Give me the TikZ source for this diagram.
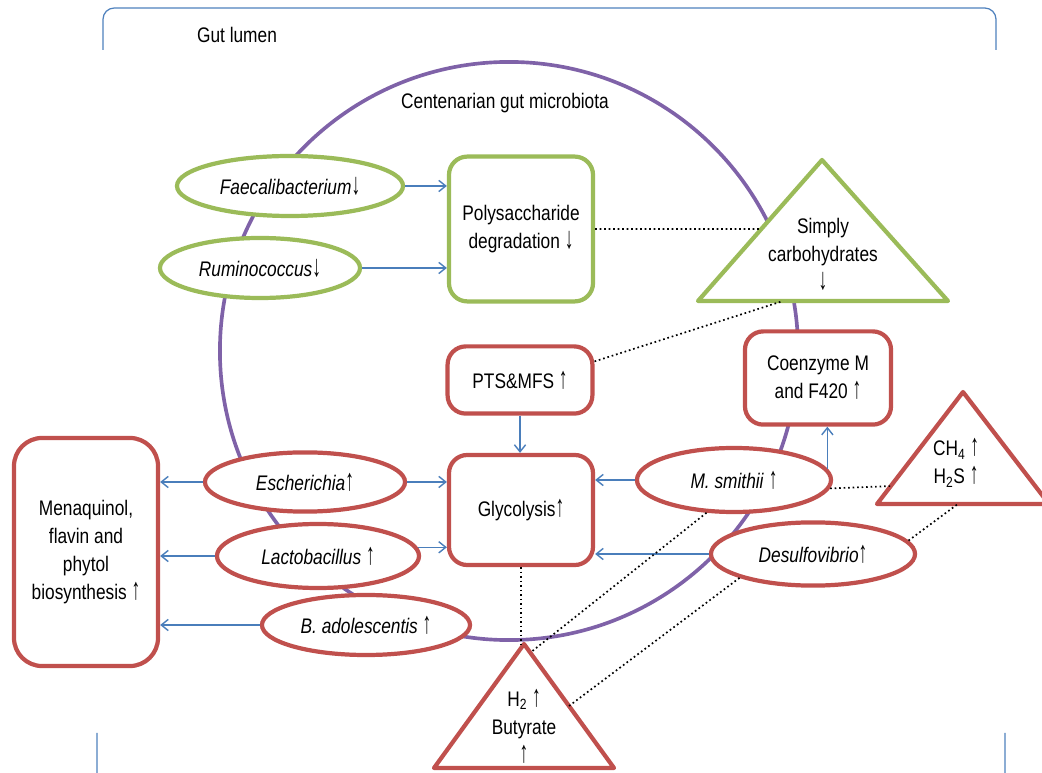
\documentclass[tikz,border=0pt]{standalone}
\usepackage{fontspec}
\setmainfont[FakeStretch=0.82]{Liberation Sans}
\usetikzlibrary{shapes.geometric,arrows.meta,calc}

\definecolor{lumenblue}{HTML}{4F81BD}
\definecolor{ringpurple}{HTML}{7F62A8}
\definecolor{downgreen}{HTML}{9BBB59}
\definecolor{upred}{HTML}{C0504D}
\definecolor{linkblue}{HTML}{4A7EBB}

% taller change arrows
\newcommand{\incr}{\scalebox{1}[1.45]{↑}}
\newcommand{\decr}{\scalebox{1}[1.45]{↓}}

\begin{document}
\begin{tikzpicture}[
    x=0.025cm, y=-0.025cm,
    every node/.style={font=\fontsize{15}{20}\selectfont, inner sep=0pt},
    taxon/.style={ellipse, line width=3pt, fill=white},
    taxdown/.style={taxon, draw=downgreen},
    taxup/.style={taxon, draw=upred},
    proc/.style={rectangle, rounded corners=13pt, line width=3pt,
                 fill=white, align=center},
    procdown/.style={proc, draw=downgreen},
    procup/.style={proc, draw=upred},
    prod/.style={line width=3pt, line join=round, fill=white},
    feed/.style={-{Straight Barb[length=5pt,width=8pt]}, linkblue, line width=1pt},
    assoc/.style={dotted, line width=1.2pt},
    lbl/.style={align=center},
]
\useasboundingbox (0,0) rectangle (1042,773);

% === Gut lumen ===
\draw[lumenblue, line width=0.9pt, rounded corners=8pt]
    (103,50) -- (103,8) -- (996,8) -- (996,50);
\draw[lumenblue, line width=0.9pt, rounded corners=8pt]
    (97,733) -- (97,800) -- (1005,800) -- (1005,733);
\node[lbl] (lumen) at (237,35) {Gut lumen};

% === Microbiota ring ===
\node[circle, draw=ringpurple, line width=2.6pt, minimum size=14.45cm] (ring) at (509,351) {};
\node[lbl] (ringlbl) at (505,103) {Centenarian gut microbiota};

% --- Decreased taxa (green) ---
\node[taxdown, minimum width=5.65cm, minimum height=1.5cm] (faec) at (290,186)
    {\textit{Faecalibacterium}\decr};
\node[taxdown, minimum width=5.0cm, minimum height=1.5cm] (rumi) at (260,268)
    {\textit{Ruminococcus}\decr};
\node[procdown, minimum width=3.6cm, minimum height=3.62cm] (poly) at (521,229)
    {Polysaccharide\\degradation \decr};

% carbohydrate triangle
\coordinate (sc-top)   at (822,160);
\coordinate (sc-left)  at (698,301);
\coordinate (sc-right) at (948,301);
\draw[prod, draw=downgreen] (sc-top) -- (sc-left) -- (sc-right) -- cycle;
\node[lbl] (simply) at (823,254) {Simply\\carbohydrates\\\decr};

% --- Increased taxa (red) ---
\node[procup, minimum width=3.62cm, minimum height=1.68cm] (pts) at (520,380) {PTS\&MFS \incr};
\node[procup, minimum width=3.65cm, minimum height=2.33cm] (coenz) at (818,378)
    {Coenzyme M\\and F420 \incr};
\node[procup, minimum width=3.6cm, minimum height=2.75cm] (glyc) at (521,510) {Glycolysis\incr};
\node[procup, rounded corners=20pt, minimum width=3.6cm, minimum height=5.7cm] (mena) at (86,552)
    {Menaquinol,\\flavin and\\phytol\\biosynthesis \incr};

\node[taxup, minimum width=4.85cm, minimum height=1.6cm] (msmi) at (734,480)
    {\textit{M. smithii} \incr};
\node[taxup, minimum width=5.1cm, minimum height=1.58cm] (desulf) at (813,554)
    {\textit{Desulfovibrio}\incr};
\node[taxup, minimum width=5.0cm, minimum height=1.48cm] (esch) at (305,482)
    {\textit{Escherichia}\incr};
\node[taxup, minimum width=5.05cm, minimum height=1.6cm] (lacto) at (318,556)
    {\textit{Lactobacillus} \incr};
\node[taxup, minimum width=5.2cm, minimum height=1.5cm] (badol) at (366,625)
    {\textit{B. adolescentis} \incr};

% gas triangle
\coordinate (gas-top)   at (963,392);
\coordinate (gas-left)  at (877,504);
\coordinate (gas-right) at (1049,504);
\draw[prod, draw=upred] (gas-top) -- (gas-left) -- (gas-right) -- cycle;
\node[lbl] (gas) at (956,463) {CH\textsubscript{4} \incr\\H\textsubscript{2}S \incr};

% butyrate triangle
\coordinate (h2-top)   at (524,644);
\coordinate (h2-left)  at (434,768);
\coordinate (h2-right) at (614,768);
\draw[prod, draw=upred] (h2-top) -- (h2-left) -- (h2-right) -- cycle;
\node[lbl] (h2) at (524,726) {H\textsubscript{2} \incr\\Butyrate\\\incr};

% --- Connections ---
% taxa -> pathways
\draw[feed] (faec.east) -- (faec.east -| poly.west);
\draw[feed] (rumi.east) -- (rumi.east -| poly.west);
\draw[feed] (pts.south) -- (pts.south |- glyc.north);
\draw[feed] (msmi.7) -- (msmi.7 |- coenz.south);
\draw[feed] (msmi.west) -- (msmi.west -| glyc.east);
\draw[feed] (desulf.west) -- (desulf.west -| glyc.east);
\draw[feed] (esch.east) -- (esch.east -| glyc.west);
\draw[feed] (lacto.5) -- (lacto.5 -| glyc.west);
\draw[feed] (esch.west) -- (esch.west -| mena.east);
\draw[feed] (lacto.west) -- (lacto.west -| mena.east);
\draw[feed] (badol.west) -- (badol.west -| mena.east);

% associations (dotted)
\draw[assoc] (poly.east) -- ($(sc-top)!0.49!(sc-left)$);
\draw[assoc] (pts.14) -- ($(sc-left)!0.34!(sc-right)$);
\draw[assoc] (msmi.-5) -- ($(gas-top)!0.84!(gas-left)$);
\draw[assoc] (desulf.8) -- ($(gas-left)!0.47!(gas-right)$);
\draw[assoc] (glyc.south) -- (glyc.south |- h2-top);
\draw[assoc] (msmi.230) -- ($(h2-top)!0.07!(h2-right)$);
\draw[assoc] (desulf.198) -- ($(h2-top)!0.5!(h2-right)$);

\end{tikzpicture}
\end{document}
